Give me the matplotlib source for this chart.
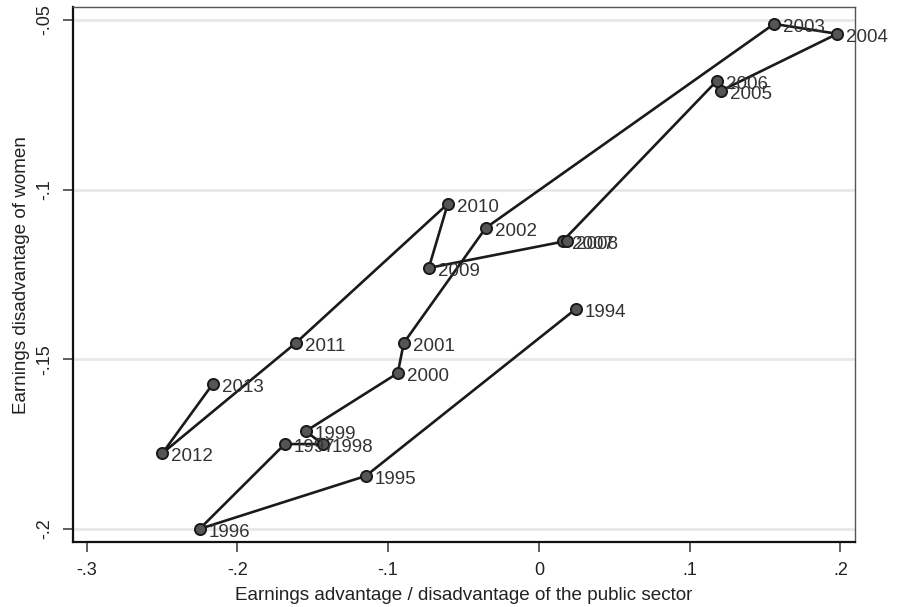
import matplotlib
matplotlib.use("Agg")

import matplotlib.pyplot as plt

# public sector earnings gap (x) vs. gender earnings gap (y), by year
years = [1994, 1995, 1996, 1997, 1998, 1999, 2000, 2001, 2002, 2003,
         2004, 2005, 2006, 2007, 2008, 2009, 2010, 2011, 2012, 2013]
public_gap = [0.0245, -0.1148, -0.225, -0.1685, -0.1435, -0.1546, -0.0936, -0.0896, -0.0352, 0.156,
              0.198, 0.1208, 0.118, 0.016, 0.0188, -0.073, -0.0604, -0.1612, -0.2497, -0.2163]
women_gap = [-0.1352, -0.1844, -0.2, -0.175, -0.175, -0.1712, -0.1541, -0.1452, -0.1113, -0.0512,
             -0.0541, -0.0709, -0.068, -0.1151, -0.1151, -0.1231, -0.1042, -0.1452, -0.1777, -0.1573]

xticks = [-0.3, -0.2, -0.1, 0, 0.1, 0.2]
xticklabels = ["-.3", "-.2", "-.1", "0", ".1", ".2"]
yticks = [-0.2, -0.15, -0.1, -0.05]
yticklabels = ["-.2", "-.15", "-.1", "-.05"]

plt.rcParams["font.family"] = ["Liberation Sans", "DejaVu Sans"]

fig = plt.figure(figsize=(8.98, 6.07), dpi=100)
ax = fig.add_axes([0.0813, 0.1063, 0.8708, 0.8822])

ax.plot(public_gap, women_gap, color="#1a1a1a", linewidth=1.9, zorder=3,
        marker="o", markersize=8, markerfacecolor="#555555",
        markeredgecolor="#1a1a1a", markeredgewidth=1.4)

# year labels sit to the right of each point
for yr, x, y in zip(years, public_gap, women_gap):
    ax.annotate(str(yr), (x, y), xytext=(6.5, -2.5), textcoords="offset points",
                ha="left", va="center", fontsize=13.5, color="#333333", zorder=4)

ax.set_xlim(-0.309, 0.2097)
ax.set_ylim(-0.204, -0.0462)

ax.set_xticks(xticks)
ax.set_xticklabels(xticklabels)
ax.set_yticks(yticks)
ax.set_yticklabels(yticklabels, rotation=90, va="center")

ax.grid(axis="y", color="#e8e8e8", linewidth=2)
ax.set_axisbelow(True)

ax.tick_params(axis="both", direction="out", length=7, width=1.1, color="#333333",
               labelsize=13, labelcolor="#222222", pad=7)

for side in ["top", "right"]:
    ax.spines[side].set_color("#555555")
    ax.spines[side].set_linewidth(1.0)
for side in ["left", "bottom"]:
    ax.spines[side].set_color("#111111")
    ax.spines[side].set_linewidth(1.6)

ax.set_xlabel("Earnings advantage / disadvantage of the public sector",
              fontsize=13.6, color="#222222", labelpad=6)
ax.set_ylabel("Earnings disadvantage of women", fontsize=13.6, color="#222222", labelpad=5)

fig.savefig("out.png", dpi=100)
